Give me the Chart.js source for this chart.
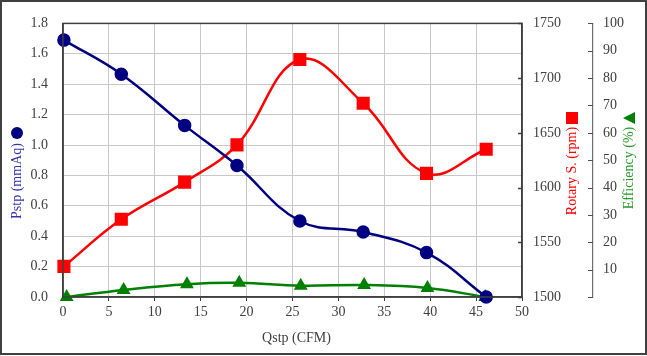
<!DOCTYPE html>
<html>
<head>
<meta charset="utf-8">
<script src="https://cdn.jsdelivr.net/npm/chart.js@4/dist/chart.umd.min.js"></script>
<style>
html,body{margin:0;padding:0;background:#fff;}
#wrap{width:647px;height:356px;position:relative;}
</style>
</head>
<body>
<div id="wrap"><canvas id="c" width="647" height="356"></canvas></div>
<script>
// ---- data ----
const qstp    = [0.1, 6.35, 13.25, 18.95, 25.8, 32.7, 39.6, 46.1];
const pstp    = [1.69, 1.466, 1.129, 0.865, 0.50, 0.428, 0.292, 0.0];
const rpm     = [1528, 1571, 1605, 1639, 1717, 1677, 1613, 1635];
const qstpEff = [0.4, 6.6, 13.5, 19.2, 25.9, 32.8, 39.7, 46.0];
const eff     = [0, 2.6, 4.7, 5.2, 4.1, 4.4, 3.3, 0];

const xTicks   = [0, 5, 10, 15, 20, 25, 30, 35, 40, 45, 50];
const pTicks   = [0.0, 0.2, 0.4, 0.6, 0.8, 1.0, 1.2, 1.4, 1.6, 1.8];
const rpmTicks = [1500, 1550, 1600, 1650, 1700, 1750];
const effTicks = [10, 20, 30, 40, 50, 60, 70, 80, 90, 100];

const xTitle = 'Qstp (CFM)';
const pTitle = 'Pstp (mmAq)';
const rTitle = 'Rotary S. (rpm)';
const eTitle = 'Efficiency (%)';

const NAVY = '#000080', RED = '#ff0000', GREEN = '#008000';
const FONT = 'Liberation Serif';
const TICKCOL = '#404040';

const pts = (xs, ys) => xs.map((x, i) => ({x: x, y: ys[i]}));

const deco = {
  id: 'deco',
  beforeDraw(chart) {
    const ctx = chart.ctx;
    ctx.save();
    ctx.fillStyle = '#fff';
    ctx.fillRect(0, 0, chart.width, chart.height);
    ctx.restore();
  },
  afterDraw(chart) {
    const ctx = chart.ctx;
    const a = chart.chartArea;
    ctx.save();
    // plot frame
    ctx.strokeStyle = '#404040';
    ctx.lineWidth = 1.5;
    ctx.strokeRect(a.left, a.top, a.right - a.left, a.bottom - a.top);
    // rpm inward ticks
    const y1 = chart.scales.y1;
    ctx.beginPath();
    rpmTicks.forEach(v => {
      const py = Math.round(y1.getPixelForValue(v)) + 0.5;
      ctx.moveTo(a.right - 4, py); ctx.lineTo(a.right, py);
    });
    ctx.stroke();
    // efficiency ticks (left of its axis line)
    const y2 = chart.scales.y2;
    ctx.strokeStyle = '#505050';
    ctx.lineWidth = 1.2;
    ctx.beginPath();
    [0].concat(effTicks).forEach(v => {
      const py = Math.round(y2.getPixelForValue(v)) + 0.5;
      ctx.moveTo(y2.left - 5, py); ctx.lineTo(y2.left, py);
    });
    ctx.stroke();

    // titles
    ctx.font = '14px "' + FONT + '"';
    ctx.textAlign = 'center';
    ctx.textBaseline = 'middle';
    ctx.fillStyle = TICKCOL;
    ctx.fillText(xTitle, (a.left + a.right) / 2 + 4, 338);

    const rot = (text, cx, cy, color) => {
      ctx.save();
      ctx.translate(cx, cy);
      ctx.rotate(-Math.PI / 2);
      ctx.fillStyle = color;
      ctx.fillText(text, 0, 0);
      ctx.restore();
    };
    rot(pTitle, 17, 181, '#3333aa');
    rot(rTitle, 572, 171, RED);
    rot(eTitle, 629, 168, '#2a9a2a');

    // legend markers
    ctx.fillStyle = NAVY;
    ctx.beginPath(); ctx.arc(17, 133, 6, 0, Math.PI * 2); ctx.fill();
    ctx.fillStyle = RED;
    ctx.fillRect(566, 112, 12, 12);
    ctx.fillStyle = GREEN;
    ctx.beginPath();
    ctx.moveTo(623, 118); ctx.lineTo(635, 112); ctx.lineTo(635, 124); ctx.closePath();
    ctx.fill();

    // outer border
    ctx.strokeStyle = '#404040';
    ctx.lineWidth = 2;
    ctx.strokeRect(1, 1, chart.width - 2, 353);
    ctx.restore();
  }
};

new Chart(document.getElementById('c'), {
  type: 'line',
  data: {
    datasets: [
      {
        label: 'Pstp', data: pts(qstp, pstp), yAxisID: 'y',
        borderColor: NAVY, backgroundColor: NAVY, borderWidth: 2.5,
        pointStyle: 'circle', pointRadius: 5.5, pointHoverRadius: 5.5,
        tension: 0.4, clip: false
      },
      {
        label: 'Rotary S.', data: pts(qstp, rpm), yAxisID: 'y1',
        borderColor: RED, backgroundColor: RED, borderWidth: 2.5,
        pointStyle: 'rect', pointRadius: 7.5, pointHoverRadius: 7.5,
        tension: 0.4, clip: false
      },
      {
        label: 'Efficiency', data: pts(qstpEff, eff), yAxisID: 'y2',
        borderColor: GREEN, backgroundColor: GREEN, borderWidth: 2.5,
        pointStyle: 'triangle', pointRadius: 5.5, pointHoverRadius: 5.5,
        tension: 0.4, clip: false
      }
    ]
  },
  options: {
    responsive: false,
    animation: false,
    layout: {padding: {top: 18, left: 0, right: 0, bottom: 0}},
    plugins: {legend: {display: false}, tooltip: {enabled: false}},
    scales: {
      x: {
        type: 'linear', min: 0, max: 50,
        afterBuildTicks: s => { s.ticks = xTicks.map(v => ({value: v})); },
        ticks: {font: {family: FONT, size: 14}, color: TICKCOL, padding: 3,
                callback: v => String(v)},
        grid: {color: '#c8c8c8', tickLength: 4, tickColor: '#404040'},
        border: {color: '#404040', width: 1.5},
        afterFit: s => { s.height = 59; }
      },
      y: {
        position: 'left', min: 0, max: 1.8,
        afterBuildTicks: s => { s.ticks = pTicks.map(v => ({value: v})); },
        ticks: {font: {family: FONT, size: 14}, color: TICKCOL, padding: 15,
                callback: v => Number(v).toFixed(1)},
        grid: {color: '#c8c8c8', drawTicks: false},
        border: {color: '#404040', width: 1.5},
        afterFit: s => { s.width = 63; }
      },
      y1: {
        position: 'right', min: 1500, max: 1750,
        afterBuildTicks: s => { s.ticks = rpmTicks.map(v => ({value: v})); },
        ticks: {font: {family: FONT, size: 14}, color: TICKCOL, padding: 11,
                callback: v => String(v)},
        grid: {drawOnChartArea: false, drawTicks: false},
        border: {color: '#404040', width: 1.5},
        afterFit: s => { s.width = 71; }
      },
      y2: {
        position: 'right', min: 0, max: 100,
        afterBuildTicks: s => { s.ticks = [0].concat(effTicks).map(v => ({value: v})); },
        ticks: {font: {family: FONT, size: 14}, color: TICKCOL, padding: 10,
                callback: v => (v === 0 ? '' : String(v))},
        grid: {drawOnChartArea: false, drawTicks: false},
        border: {color: '#707070', width: 1.2},
        afterFit: s => { s.width = 54; }
      }
    }
  },
  plugins: [deco]
});
</script>
</body>
</html>
